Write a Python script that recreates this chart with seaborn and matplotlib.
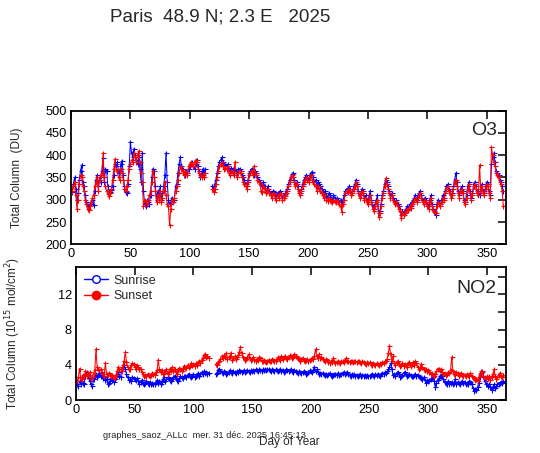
import numpy as np
import pandas as pd
import matplotlib
matplotlib.use("Agg")
import matplotlib.pyplot as plt
from matplotlib.lines import Line2D
import seaborn as sns

TITLE = "Paris  48.9 N; 2.3 E   2025"
FOOTER = "graphes_saoz_ALLc  mer. 31 déc. 2025 16:45:13"
SERIES = ["Sunrise", "Sunset"]
COLORS = {"Sunrise": "#0000FF", "Sunset": "#FF0000"}
X_TICKS = [0, 50, 100, 150, 200, 250, 300, 350]
O3_TICKS = [200, 250, 300, 350, 400, 450, 500]
NO2_TICKS = [0, 4, 8, 12]

# days 1-113 (part A) and days 119-364 (part B)
START_A = 1
START_B = 119

O3_SUNRISE_A = [
    318, 335, 350, 325, 300, 315, 345, 365, 378, 340,
    330, 310, 295, 288, 285, 290, 295, 300, 288, 320,
    345, 355, 330, 350, 340, 365, 393, 340, 370, 365,
    330, 320, 318, 322, 330, 355, 380, 375, 385, 360,
    365, 380, 388, 355, 330, 318, 315, 335, 375, 430,
    405, 395, 415, 400, 390, 380, 395, 370, 340, 405,
    320, 290, 285, 300, 295, 290, 310, 350, 370, 365,
    330, 300, 320, 310, 330, 300, 315, 330, 355, 405,
    340, 300, 290, 295, 305, 300, 300, 330, 335, 360,
    380, 395, 375, 370, 360, 355, 365, 360, 370, 375,
    380, 385, 375, 370, 380, 390, 375, 365, 350, 360,
    370, 360, 370]
O3_SUNRISE_B = [
    330, 325,
    335, 345, 360, 375, 385, 390, 395, 385, 380, 378,
    375, 380, 370, 365, 372, 368, 360, 370, 365, 360,
    368, 370, 365, 355, 350, 345, 335, 330, 345, 360,
    365, 370, 360, 355, 365, 360, 350, 345, 340, 335,
    330, 340, 330, 320, 325, 330, 320, 315, 310, 320,
    318, 310, 305, 315, 310, 320, 315, 305, 310, 312,
    320, 325, 335, 345, 350, 358, 360, 345, 335, 340,
    330, 320, 315, 325, 335, 345, 350, 355, 350, 345,
    355, 360, 362, 350, 340, 345, 330, 340, 335, 330,
    325, 320, 315, 320, 310, 305, 315, 310, 305, 300,
    310, 305, 300, 305, 300, 295, 300, 290, 300, 310,
    320, 325, 320, 330, 325, 315, 320, 330, 335, 345,
    335, 320, 310, 315, 325, 320, 305, 310, 300, 295,
    310, 320, 300, 285, 280, 290, 300, 310, 270, 275,
    290, 310, 320, 335, 345, 340, 330, 320, 310, 315,
    305, 300, 295, 300, 290, 285, 280, 265, 275, 270,
    275, 280, 285, 280, 290, 285, 295, 300, 305, 310,
    300, 310, 315, 320, 310, 300, 295, 305, 300, 290,
    285, 300, 310, 290, 280, 275, 265, 290, 300, 295,
    290, 300, 310, 305, 320, 330, 335, 325, 320, 310,
    315, 330, 345, 360, 340, 320, 310, 325, 330, 320,
    300, 295, 310, 330, 340, 320, 305, 315, 335, 340,
    330, 320, 315, 310, 325, 335, 320, 315, 330, 340,
    335, 320, 310, 380, 395, 405, 385, 365, 360, 355,
    345, 340, 330, 320]

O3_SUNSET_A = [
    320, 330, 340, 310, 280, 300, 335, 355, 350, 330,
    320, 300, 290, 280, 278, 285, 295, 305, 310, 330,
    340, 350, 320, 345, 355, 360, 405, 350, 330, 320,
    312, 308, 315, 325, 345, 370, 392, 370, 365, 350,
    345, 370, 360, 345, 325, 320, 330, 345, 370, 380,
    390, 385, 405, 395, 385, 400, 410, 385, 360, 340,
    285, 300, 295, 290, 300, 310, 320, 340, 365, 350,
    320, 295, 310, 300, 320, 295, 305, 320, 340, 310,
    290, 285, 243, 280, 300, 295, 305, 320, 330, 345,
    360, 375, 370, 365, 355, 365, 360, 355, 375, 380,
    385, 380, 375, 385, 390, 385, 370, 360, 355, 350,
    355, 350, 360]
O3_SUNSET_B = [
    325, 318,
    325, 335, 350, 365, 375, 380, 385, 375, 370, 372,
    370, 375, 360, 355, 365, 360, 355, 385, 360, 350,
    360, 365, 360, 350, 340, 335, 330, 325, 340, 355,
    360, 365, 355, 375, 360, 355, 345, 340, 335, 320,
    318, 330, 325, 315, 320, 325, 315, 310, 305, 315,
    312, 305, 300, 310, 305, 315, 310, 300, 305, 308,
    315, 320, 330, 340, 350, 355, 352, 340, 330, 335,
    325, 315, 310, 320, 330, 340, 345, 350, 345, 340,
    350, 355, 345, 340, 335, 330, 320, 330, 325, 320,
    315, 310, 305, 310, 300, 298, 305, 300, 298, 295,
    300, 298, 295, 300, 295, 290, 285, 273, 290, 300,
    315, 320, 318, 325, 320, 310, 315, 325, 330, 340,
    330, 315, 305, 310, 320, 315, 300, 305, 295, 290,
    300, 310, 295, 280, 275, 285, 295, 300, 262, 270,
    285, 305, 315, 330, 348, 335, 325, 315, 305, 310,
    300, 295, 290, 295, 285, 280, 275, 258, 270, 265,
    270, 275, 280, 278, 285, 282, 290, 295, 300, 305,
    295, 305, 310, 315, 305, 295, 290, 300, 295, 285,
    280, 295, 305, 285, 278, 272, 270, 285, 295, 290,
    285, 295, 305, 300, 315, 325, 330, 320, 315, 305,
    310, 325, 340, 345, 330, 315, 305, 320, 325, 315,
    295, 290, 305, 325, 335, 315, 300, 310, 330, 335,
    325, 315, 310, 378, 320, 330, 315, 310, 325, 335,
    330, 315, 305, 418, 400, 385, 375, 360, 355, 350,
    340, 335, 320, 286]

NO2_SUNRISE_A = [
    1.8, 1.6, 2.2, 1.8, 2.5, 2.0, 1.9, 2.8, 3.2, 2.8,
    2.5, 2.2, 1.8, 1.6, 2.4, 2.8, 3.0, 2.6, 2.9, 3.1,
    2.8, 2.7, 2.5, 2.6, 2.3, 2.4, 1.8, 2.0, 2.2, 2.5,
    2.3, 2.1, 2.4, 2.6, 3.0, 3.2, 2.8, 2.6, 3.5, 3.8,
    4.0, 3.6, 3.0, 2.6, 2.3, 2.4, 2.2, 2.6, 2.5, 2.4,
    2.3, 2.5, 2.2, 1.9, 2.1, 2.3, 2.0, 1.8, 2.0, 2.2,
    2.0, 1.9, 2.1, 1.8, 2.0, 1.9, 1.8, 2.1, 2.3, 2.0,
    2.2, 1.9, 2.1, 2.4, 2.6, 2.2, 2.4, 2.6, 2.5, 2.3,
    2.2, 2.4, 2.6, 2.8, 2.5, 2.3, 2.2, 2.5, 2.7, 2.6,
    2.5, 2.7, 2.8, 2.6, 2.9, 3.0, 2.7, 2.6, 2.8, 3.0,
    2.6, 2.8, 2.9, 3.1, 2.8, 3.0, 3.2, 3.0, 3.3, 3.1,
    3.2, 3.0, 3.1]
NO2_SUNRISE_B = [
    3.0, 3.1,
    3.4, 3.6, 3.3, 3.2, 3.1, 3.3, 3.2, 3.0, 3.1, 3.2,
    3.4, 3.2, 3.1, 3.3, 3.2, 3.1, 3.3, 3.2, 3.4, 3.3,
    3.2, 3.3, 3.4, 3.2, 3.3, 3.4, 3.3, 3.2, 3.4, 3.3,
    3.4, 3.3, 3.5, 3.4, 3.3, 3.5, 3.4, 3.3, 3.5, 3.4,
    3.5, 3.4, 3.6, 3.5, 3.4, 3.3, 3.5, 3.4, 3.3, 3.5,
    3.4, 3.3, 3.4, 3.5, 3.3, 3.4, 3.2, 3.3, 3.5, 3.4,
    3.3, 3.4, 3.5, 3.3, 3.2, 3.4, 3.3, 3.2, 3.1, 3.3,
    3.2, 3.1, 3.2, 3.3, 3.2, 3.0, 3.1, 3.2, 3.4, 3.3,
    3.2, 3.4, 3.8, 3.3, 3.5, 3.2, 3.0, 3.1, 3.0, 3.1,
    3.0, 2.9, 3.0, 2.9, 3.0, 3.1, 2.9, 2.8, 2.9, 3.0,
    3.0, 2.9, 3.1, 2.9, 3.0, 3.0, 3.1, 3.2, 3.0, 3.1,
    3.2, 3.0, 2.9, 2.8, 3.0, 2.9, 3.0, 2.8, 2.9, 2.8,
    2.9, 3.0, 2.8, 2.9, 2.8, 2.9, 2.8, 2.9, 2.7, 2.8,
    2.9, 3.0, 2.9, 2.8, 3.0, 2.9, 3.0, 2.9, 2.8, 3.0,
    3.1, 3.0, 3.2, 3.1, 3.3, 3.5, 3.8, 4.2, 3.5, 2.9,
    3.0, 2.8, 3.1, 3.2, 3.0, 2.6, 2.7, 2.9, 3.1, 3.2,
    3.0, 2.8, 2.9, 3.0, 2.9, 2.7, 2.8, 2.9, 3.0, 2.8,
    2.9, 2.7, 2.6, 2.5, 2.4, 2.6, 2.3, 2.0, 2.3, 2.2,
    2.3, 2.4, 2.5, 2.6, 2.2, 1.5, 2.0, 2.3, 2.5, 2.7,
    2.9, 2.7, 2.4, 2.1, 2.0, 1.9, 2.2, 1.9, 2.0, 2.1,
    1.9, 2.0, 2.4, 1.9, 2.1, 2.0, 1.9, 2.1, 2.2, 2.0,
    2.1, 1.9, 2.0, 1.8, 2.2, 2.1, 1.9, 1.4, 1.1, 1.3,
    1.2, 1.5, 2.0, 2.6, 3.1, 3.3, 2.8, 2.2, 1.9, 1.8,
    1.6, 1.9, 1.5, 1.2, 1.5, 1.8, 1.4, 1.6, 1.9, 1.8,
    2.0, 2.1, 2.0, 2.2]

NO2_SUNSET_A = [
    2.2, 2.6, 3.6, 2.5, 2.4, 2.9, 2.7, 3.3, 2.8, 3.1,
    2.9, 3.2, 2.4, 2.6, 3.0, 3.4, 5.8, 3.8, 3.6, 3.4,
    3.5, 3.2, 3.0, 2.8, 4.2, 3.0, 2.9, 3.1, 3.0, 2.8,
    2.9, 2.5, 2.6, 2.9, 3.3, 3.8, 3.6, 3.5, 3.3, 4.0,
    4.5, 5.5, 4.3, 3.8, 3.5, 3.6, 4.0, 4.2, 4.1, 3.8,
    3.6, 4.0, 3.8, 3.5, 3.6, 3.2, 3.0, 2.8, 2.9, 2.8,
    3.0, 2.9, 2.8, 2.9, 3.1, 3.0, 2.9, 3.2, 3.4, 4.6,
    3.6, 3.2, 3.4, 3.0, 3.1, 3.3, 3.5, 3.0, 3.2, 3.6,
    3.4, 3.8, 3.3, 3.6, 3.2, 3.0, 3.4, 3.7, 3.5, 3.3,
    3.6, 3.9, 3.8, 3.7, 4.0, 3.8, 3.9, 4.2, 4.0, 4.1,
    3.9, 4.2, 4.0, 4.3, 4.4, 4.2, 4.6, 4.8, 5.1, 5.2,
    4.9, 5.0, 4.8]
NO2_SUNSET_B = [
    4.1, 4.0,
    4.3, 4.5, 4.7, 5.0, 4.8, 5.1, 4.9, 5.3, 4.7, 4.9,
    5.0, 5.4, 4.6, 4.8, 5.0, 4.7, 4.9, 5.1, 5.5, 6.0,
    5.3, 4.9, 4.8, 4.6, 4.7, 4.9, 5.2, 4.8, 4.6, 4.7,
    4.9, 4.6, 4.5, 4.7, 4.6, 4.9, 4.8, 4.5, 4.4, 4.6,
    4.5, 4.3, 4.5, 4.6, 4.4, 4.5, 4.7, 4.6, 4.5, 4.4,
    4.7, 4.9, 4.8, 4.6, 5.0, 4.7, 4.9, 5.0, 4.8, 4.7,
    4.9, 5.1, 5.0, 4.8, 4.9, 5.2, 5.0, 4.9, 4.8, 4.7,
    4.5, 4.7, 4.8, 4.6, 4.5, 4.6, 4.7, 4.5, 4.6, 4.7,
    4.8, 4.7, 5.0, 5.8, 5.0, 4.8, 5.2, 4.8, 4.9, 4.7,
    4.6, 4.5, 4.7, 4.6, 4.3, 4.2, 4.4, 4.3, 4.8, 4.4,
    4.2, 4.3, 4.4, 4.3, 4.2, 4.5, 4.4, 4.3, 4.6, 4.8,
    4.5, 4.4, 4.3, 4.5, 4.4, 4.3, 4.5, 4.4, 4.3, 4.4,
    4.5, 4.3, 4.2, 4.4, 4.3, 4.2, 4.1, 4.3, 4.2, 4.3,
    4.1, 4.0, 4.2, 4.1, 4.0, 4.2, 4.1, 4.0, 4.2, 4.1,
    4.3, 4.2, 4.4, 4.5, 4.7, 5.4, 6.1, 5.2, 4.4, 5.0,
    4.2, 4.0, 4.3, 4.4, 4.1, 3.9, 4.0, 4.2, 3.9, 4.1,
    4.0, 3.8, 4.2, 4.3, 3.9, 4.1, 4.3, 4.0, 4.4, 4.2,
    3.8, 3.6, 3.7, 4.1, 3.8, 3.5, 3.4, 3.6, 3.3, 3.4,
    3.2, 3.0, 3.1, 2.9, 2.8, 3.0, 3.3, 3.6, 3.5, 3.4,
    3.5, 3.2, 3.0, 3.1, 2.9, 3.0, 3.2, 3.1, 3.4, 4.9,
    3.3, 3.0, 2.9, 3.2, 3.1, 2.8, 3.0, 3.1, 2.9, 2.8,
    2.9, 2.7, 3.0, 2.9, 2.8, 3.1, 2.7, 2.6, 2.5, 2.3,
    2.4, 2.2, 2.6, 3.0, 3.3, 3.2, 2.8, 2.6, 2.4, 2.7,
    2.5, 2.8, 2.3, 2.6, 3.0, 3.5, 2.7, 2.4, 2.6, 2.9,
    3.1, 2.8, 2.6, 2.9]


def build(series_parts):
    rows = []
    for name, (a, b) in series_parts.items():
        for seg, (start, vals) in enumerate([(START_A, a), (START_B, b)]):
            for i, v in enumerate(vals):
                rows.append({"day": start + i, "value": v, "series": name,
                             "unit": f"{name}-{seg}"})
    return pd.DataFrame(rows)


df_o3 = build({"Sunrise": (O3_SUNRISE_A, O3_SUNRISE_B),
               "Sunset": (O3_SUNSET_A, O3_SUNSET_B)})
df_no2 = build({"Sunrise": (NO2_SUNRISE_A, NO2_SUNRISE_B),
                "Sunset": (NO2_SUNSET_A, NO2_SUNSET_B)})

sns.set_style("white")
plt.rcParams["font.family"] = ["Liberation Sans", "DejaVu Sans"]

W, H = 540, 453
fig = plt.figure(figsize=(W / 100, H / 100), dpi=100)
ax1 = fig.add_axes([71 / W, 1 - 244.3 / H, 435.3 / W, 133.6 / H])
ax2 = fig.add_axes([76 / W, 1 - 400.3 / H, 430.3 / W, 133.0 / H])

for ax, df in [(ax1, df_o3), (ax2, df_no2)]:
    for name in SERIES:
        sub = df[df["series"] == name]
        sns.lineplot(data=sub, x="day", y="value", units="unit",
                     estimator=None, color=COLORS[name],
                     marker="+", markersize=3.6, markeredgewidth=0.8,
                     markeredgecolor=COLORS[name],
                     linewidth=0.75, ax=ax, legend=False, sort=True)

for ax in (ax1, ax2):
    ax.set_xlim(0, 366.5)
    ax.set_xticks(X_TICKS)
    ax.set_xlabel("")
    for s in ax.spines.values():
        s.set_visible(True)
        s.set_linewidth(1.3)
        s.set_color("black")
    ax.tick_params(direction="in", length=6, width=1.1, top=True, right=True,
                   labelsize=9.2, colors="black", pad=3)

ax1.set_ylim(200, 500)
ax1.set_yticks(O3_TICKS)
ax1.set_ylabel("Total Column  (DU)", fontsize=8.5)
ax1.yaxis.set_label_coords(-0.111, 0.5)
ax1.text(0.978, 0.855, "O3", transform=ax1.transAxes, ha="right", va="center",
         fontsize=14)

ax2.set_ylim(0, 15.06)
ax2.set_yticks(np.arange(0, 15, 2))
ax2.set_yticklabels([str(t) if t in NO2_TICKS else "" for t in np.arange(0, 15, 2)])
ax2.set_ylabel("Total Column (10$^{15}$ mol/cm$^{2}$)", fontsize=8.5)
ax2.yaxis.set_label_coords(-0.123, 0.5)
ax2.text(0.978, 0.837, "NO2", transform=ax2.transAxes, ha="right", va="center",
         fontsize=14)

handles = [Line2D([], [], color=COLORS["Sunrise"], marker="o", markersize=5.5,
                  markerfacecolor="white", linewidth=1),
           Line2D([], [], color=COLORS["Sunset"], marker="o", markersize=6,
                  markerfacecolor=COLORS["Sunset"], linewidth=1)]
ax2.legend(handles, SERIES, loc="upper left", frameon=False, fontsize=9,
           handlelength=1.95, handletextpad=0.45, labelspacing=0.25,
           borderaxespad=0.2, bbox_to_anchor=(0.0, 1.0))

fig.text(220 / W, 1 - 17 / H, TITLE, ha="center", va="center", fontsize=13.5)
fig.text(103 / W, 1 - 435 / H, FOOTER, ha="left", va="center", fontsize=6.7)
fig.text(289.5 / W, 1 - 441.5 / H, "Day of Year", ha="center", va="center", fontsize=8.5)

fig.savefig("out.png", dpi=100, facecolor="white")
